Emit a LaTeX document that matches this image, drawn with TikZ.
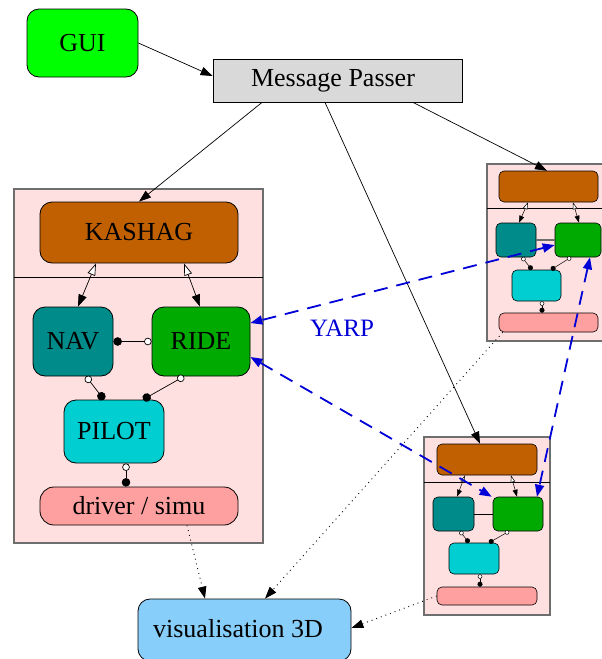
\documentclass[tikz,border=0pt]{standalone}
\usepackage{fontspec}
\setmainfont{Liberation Serif}
\usetikzlibrary{arrows.meta}
\definecolor{guigreen}{RGB}{0,255,0}
\definecolor{mpgray}{RGB}{217,217,217}
\definecolor{clpink}{RGB}{255,224,224}
\definecolor{kashagc}{RGB}{192,96,0}
\definecolor{navc}{RGB}{0,139,139}
\definecolor{ridec}{RGB}{0,170,0}
\definecolor{pilotc}{RGB}{0,206,209}
\definecolor{drvc}{RGB}{255,160,160}
\definecolor{visc}{RGB}{135,206,250}
\definecolor{yarpc}{RGB}{0,0,215}
\definecolor{clborder}{RGB}{110,110,110}
\tikzset{
  bigbox/.style={draw=black, line width=0.8pt, rounded corners=12pt, inner sep=0pt,
    font=\fontsize{26}{30}\selectfont},
  smallbox/.style={draw=black, line width=0.6pt, rounded corners=5pt, inner sep=0pt},
  cluster/.style={draw=clborder, line width=1.2pt, fill=clpink},
  divider/.style={draw=black, line width=0.8pt},
  bigarrow/.style={draw=black, line width=0.7pt, -{Triangle[length=12pt,width=8.5pt]}},
  bothbig/.style={draw=black, line width=0.7pt,
    {Triangle[open,length=12pt,width=8pt,fill=white]}-{Triangle[length=12pt,width=8.5pt]}},
  bothsmall/.style={draw=black, line width=0.5pt,
    {Triangle[open,length=7pt,width=4.5pt,fill=white]}-{Triangle[length=7pt,width=5pt]}},
  dotbig/.style={draw=black, line width=0.7pt,
    {Circle[open,length=7.5pt,fill=white]}-{Circle[length=8.5pt]}},
  dotsmall/.style={draw=black, line width=0.5pt,
    {Circle[open,length=4.5pt,fill=white]}-{Circle[length=5pt]}},
  dotted3d/.style={draw=black, line width=0.9pt, dash pattern=on 0.9pt off 4pt,
    -{Triangle[length=12pt,width=8.5pt]}},
  yarp/.style={draw=yarpc, line width=1.8pt, dash pattern=on 14pt off 9pt,
    {Triangle[length=12pt,width=9pt]}-{Triangle[length=12pt,width=9pt]}},
}
\begin{document}
\begin{tikzpicture}[x=1pt,y=-1pt]
\useasboundingbox (0,0) rectangle (602,659);
% clusters
\draw[cluster] (14,189) rectangle (263,543);
\draw[divider] (14,277) -- (263,277);
\draw[cluster] (487,164) rectangle (612,341);
\draw[divider] (487,208) -- (612,208);
\draw[cluster] (424,437) rectangle (550,615);
\draw[divider] (424,482) -- (550,482);

% top nodes
\node[bigbox, fill=guigreen, minimum width=111pt, minimum height=68pt] (gui) at (82.5,43) {GUI};
\node[bigbox, rounded corners=0pt, fill=mpgray, minimum width=249pt, minimum height=43pt] (mp) at (337.5,80.5) {Message Passer\hspace*{9pt}};

% cluster 1
\node[bigbox, fill=kashagc, minimum width=198pt, minimum height=61pt] (kashag) at (139,232.5) {KASHAG};
\node[bigbox, fill=navc, minimum width=80pt, minimum height=69pt] (nav) at (73,341.5) {NAV};
\node[bigbox, fill=ridec, minimum width=98pt, minimum height=69pt] (ride) at (201,341.5) {RIDE};
\node[bigbox, fill=pilotc, minimum width=100pt, minimum height=63pt] (pilot) at (114,431.5) {PILOT};
\node[bigbox, rounded corners=14pt, fill=drvc, minimum width=198pt, minimum height=38pt] (drv) at (139,506) {driver / simu};

% cluster 2
\node[smallbox, fill=kashagc, minimum width=99pt, minimum height=31pt] (b2) at (548.5,186.5) {};
\node[smallbox, fill=navc, minimum width=40pt, minimum height=34pt] (t2) at (516,240) {};
\node[smallbox, fill=ridec, minimum width=46pt, minimum height=34pt] (g2) at (578,240) {};
\node[smallbox, fill=pilotc, minimum width=49pt, minimum height=31pt] (c2) at (536.5,285.5) {};
\node[smallbox, fill=drvc, minimum width=99pt, minimum height=19pt] (p2) at (548.5,322.5) {};

% cluster 3
\node[smallbox, fill=kashagc, minimum width=100pt, minimum height=31pt] (b3) at (487,459.5) {};
\node[smallbox, fill=navc, minimum width=41pt, minimum height=34pt] (t3) at (453.5,514) {};
\node[smallbox, fill=ridec, minimum width=50pt, minimum height=34pt] (g3) at (518,514) {};
\node[smallbox, fill=pilotc, minimum width=50pt, minimum height=31pt] (c3) at (474,558.5) {};
\node[smallbox, fill=drvc, minimum width=100pt, minimum height=18pt] (p3) at (487,596) {};

% visualisation
\node[bigbox, fill=visc, minimum width=213pt, minimum height=62pt] (vis) at (244.5,630) {\raisebox{4pt}{visualisation 3D}\hspace*{13pt}};

% main edges
\draw[bigarrow] (gui.east) -- ([yshift=4.5pt]mp.west);
\draw[bigarrow] ([xshift=-75.5pt]mp.south) -- (kashag.north);
\draw[bigarrow] ([xshift=-12.5pt]mp.south) -- ([xshift=-7pt]b3.north);
\draw[bigarrow] ([xshift=75.5pt]mp.south) -- ([xshift=-1.5pt]b2.north);

% cluster 1 edges
\draw[bothbig] ([xshift=-43pt]kashag.south) -- ([xshift=5pt]nav.north);
\draw[bothbig] ([xshift=45pt]kashag.south) -- ([xshift=-1pt]ride.north);
\draw[dotbig] (ride.west) -- (nav.east);
\draw[dotbig] ([xshift=13pt]nav.south) -- ([xshift=-10pt]pilot.north);
\draw[dotbig] ([xshift=-17pt]ride.south) -- ([xshift=29pt]pilot.north);
\draw[dotbig] ([xshift=12pt]pilot.south) -- ([xshift=-13pt]drv.north);

% cluster 2 edges
\draw[bothsmall] ([xshift=-20.5pt]b2.south) -- ([xshift=3pt]t2.north);
\draw[bothsmall] ([xshift=24.5pt]b2.south) -- ([xshift=1pt]g2.north);
\draw[draw=clborder, line width=1.5pt] (t2.east) -- (g2.west);
\draw[dotsmall] ([xshift=6pt]t2.south) -- ([xshift=-4.5pt]c2.north);
\draw[dotsmall] ([xshift=-7pt]g2.south) -- ([xshift=14.5pt]c2.north);
\draw[dotsmall] ([xshift=5.5pt]c2.south) -- ([xshift=-6.5pt]p2.north);

% cluster 3 edges
\draw[bothsmall] ([xshift=-22pt]b3.south) -- ([xshift=3.5pt]t3.north);
\draw[bothsmall] ([xshift=24pt]b3.south) -- ([xshift=-1pt]g3.north);
\draw[draw=black, line width=0.7pt] (t3.east) -- (g3.west);
\draw[dotsmall] ([xshift=6.5pt]t3.south) -- ([xshift=-5pt]c3.north);
\draw[dotsmall] ([xshift=-9pt]g3.south) -- ([xshift=15pt]c3.north);
\draw[dotsmall] ([xshift=6pt]c3.south) -- ([xshift=-7pt]p3.north);

% dotted edges to visualisation
\draw[dotted3d] ([xshift=48pt]drv.south) -- ([xshift=-39.5pt]vis.north);
\draw[dotted3d] ([xshift=4pt]p2.south west) -- ([xshift=20.5pt]vis.north);
\draw[dotted3d] (p3.west) -- ([yshift=2pt]vis.east);

% YARP edges
\draw[yarp] ([yshift=-5pt]g2.west) -- ([yshift=18.5pt]ride.east);
\draw[yarp] ([yshift=-15.5pt]ride.east) -- ([xshift=-1pt]g3.north west);
\draw[yarp] ([xshift=12pt]g2.south) -- ([xshift=19pt]g3.north);
\node[text=yarpc, font=\fontsize{25}{30}\selectfont, inner sep=0pt] (yarplbl) at (342,328) {YARP};
\end{tikzpicture}
\end{document}
